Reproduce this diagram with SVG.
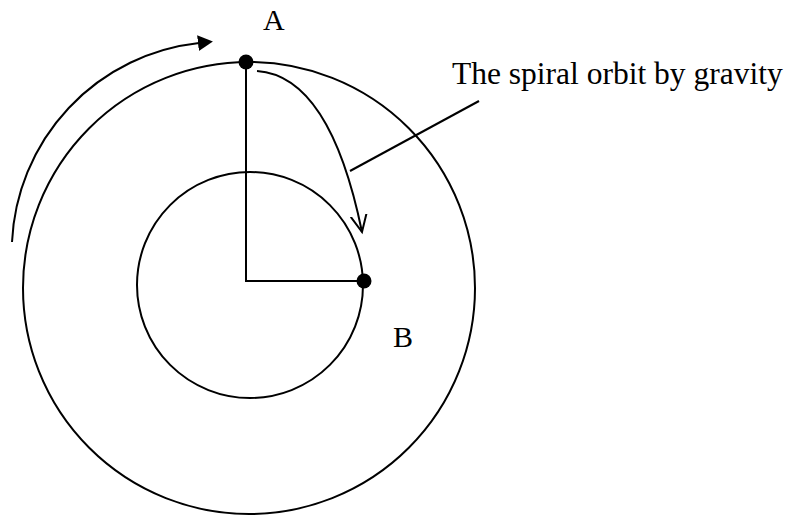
<svg xmlns="http://www.w3.org/2000/svg" width="791" height="518" viewBox="0 0 791 518">
<style>
.s{fill:none;stroke:#000;stroke-width:2}
.t{font-family:"Liberation Serif","Times New Roman",serif;fill:#000}
</style>
<defs>
<marker id="fa" markerWidth="18" markerHeight="18" refX="1" refY="8" orient="auto" markerUnits="userSpaceOnUse" viewBox="0 0 18 16">
<path d="M0,0 L15,8 L0,16 Z" fill="#000"/>
</marker>
<marker id="oa" markerWidth="22" markerHeight="22" refX="17" refY="9" orient="auto" markerUnits="userSpaceOnUse" viewBox="0 0 22 18">
<path d="M0,1 L17,9 L0,17" fill="none" stroke="#000" stroke-width="2"/>
</marker>
</defs>
<rect width="791" height="518" fill="#fff"/>
<g id="outer-orbit"><circle class="s" cx="249" cy="288" r="226"/></g>
<g id="inner-orbit"><circle class="s" cx="250" cy="285" r="113"/></g>
<g id="connectors">
<path class="s" d="M246,62 L246,281 L364,281"/>
<path class="s" d="M12,242 A210,210 0 0 1 199,43" marker-end="url(#fa)"/>
<path class="s" d="M257,71 Q330,76 362,232" marker-end="url(#oa)"/>
<line class="s" x1="350" y1="171" x2="479" y2="101"/>
</g>
<g id="point-A"><circle cx="246" cy="62" r="7.5" fill="#000"/><text class="t" x="263" y="30" font-size="30">A</text></g>
<g id="point-B"><circle cx="364" cy="281" r="7.5" fill="#000"/><text class="t" x="393" y="347" font-size="30">B</text></g>
<g id="label"><text class="t" x="452" y="84" font-size="31.5">The spiral orbit by gravity</text></g>
</svg>
